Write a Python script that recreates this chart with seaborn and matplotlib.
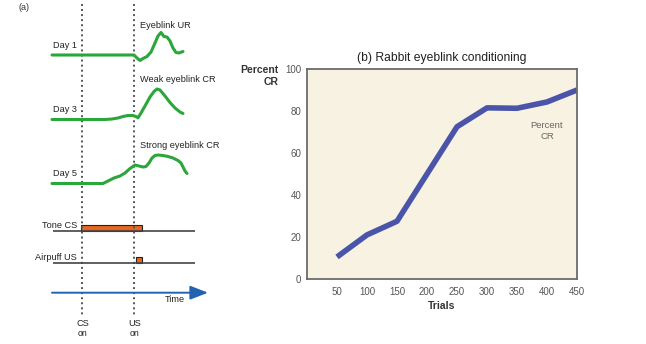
import matplotlib
matplotlib.use("Agg")
import matplotlib.pyplot as plt
import seaborn as sns
import numpy as np

# ---------------- data ----------------
# Panel (b): percent CR over trials
trials = [50, 100, 150, 250, 300, 350, 400, 450]
percent_cr = [10.5, 21, 27.5, 72.5, 81.5, 81.3, 84.3, 90]
x_ticks = [50, 100, 150, 200, 250, 300, 350, 400, 450]
y_ticks = [0, 20, 40, 60, 80, 100]

# Panel (a): schematic eyelid traces (panel units)
day1_t = [52, 134, 137, 140, 143, 147, 151, 155, 158, 161, 164, 167, 170, 173, 176, 179, 183]
day1_r = [55, 55, 58, 60.5, 58.5, 56.5, 52, 43, 36, 32.5, 36.5, 37, 41, 48, 52.5, 53, 51.5]
day3_t = [52, 105, 112, 118, 123, 128, 133, 136, 138, 141, 145, 150, 154, 157, 160, 165, 170, 175, 180, 183]
day3_r = [119.5, 119.5, 119, 118, 116.5, 115.5, 115.5, 116.5, 117.8, 113, 106, 97, 91.5, 89, 90, 96, 102.5, 108, 112, 113.5]
day5_t = [52, 103, 108, 114, 120, 125, 130, 135, 139, 143, 146, 149, 152, 155, 158, 163, 168, 173, 178, 181, 183, 185, 187]
day5_r = [183.5, 183.5, 181, 178, 176, 173, 168.5, 165, 166, 167, 166.5, 163, 158, 155.5, 155, 155.5, 156.5, 158, 160.5, 163, 167, 171, 173.5]
day_labels = ["Day 1", "Day 3", "Day 5"]
response_labels = ["Eyeblink UR", "Weak eyeblink CR", "Strong eyeblink CR"]

# stimulus timing (panel units)
cs_on, us_on, stim_off = 81, 135.5, 142.3
trace_start, trace_end = 52.7, 195

GREEN = "#2aa63a"
ORANGE = "#e8661e"
BLUE = "#2262b3"
LINE_B = "#4a54a8"
CREAM = "#f7f2e2"
GRAY = "#555555"

sns.set_theme(style="white")
plt.rcParams["font.family"] = ["Liberation Sans", "DejaVu Sans"]

W, H = 646, 344
fig = plt.figure(figsize=(W / 100, H / 100), dpi=100)
fig.patch.set_facecolor("white")

# ---------- panel (a) in pixel-like coordinates ----------
ax0 = fig.add_axes([0, 0, 1, 1])
ax0.set_xlim(0, W)
ax0.set_ylim(H, 0)
ax0.axis("off")

ax0.text(24, 7, "(a)", fontsize=6.5, color="#333333", ha="center", va="center")

# dotted onset lines
ax0.vlines([82, 134.3], 4, 315, colors="#555555", linestyles=(0, (1, 1.6)), lw=1.4)

for t, r in [(day1_t, day1_r), (day3_t, day3_r), (day5_t, day5_r)]:
    sns.lineplot(x=t, y=r, sort=False, ax=ax0, color=GREEN, lw=2.2,
                 estimator=None)
for line in ax0.get_lines():
    line.set_solid_joinstyle("round")
    line.set_solid_capstyle("round")

TXT = dict(fontsize=6.6, color="#222222")
for lab, y in zip(day_labels, [45, 110, 174]):
    ax0.text(53, y, lab, ha="left", va="center", **TXT)
for lab, y in zip(response_labels, [25, 80, 145]):
    ax0.text(140, y, lab, ha="left", va="center", **TXT)

# stimulus traces
ax0.hlines([231, 263.3], trace_start, trace_end, colors="#444444", lw=1.2)
ax0.bar([cs_on], [6.3], width=[stim_off - cs_on], bottom=[224.7], align="edge",
        color=ORANGE, edgecolor="#222222", linewidth=0.8)
ax0.bar([us_on], [6.8], width=[stim_off - us_on], bottom=[256.5], align="edge",
        color=ORANGE, edgecolor="#222222", linewidth=0.8)
ax0.text(77, 225, "Tone CS", ha="right", va="center", **TXT)
ax0.text(77, 257, "Airpuff US", ha="right", va="center", **TXT)

# time arrow
ax0.annotate("", xy=(208, 292.7), xytext=(52, 292.7),
             arrowprops=dict(arrowstyle="-|>,head_length=0.9,head_width=0.35",
                             color=BLUE, lw=1.4, shrinkA=0, shrinkB=0))
ax0.text(175, 299, "Time", ha="center", va="center", **TXT)
ax0.text(83, 323, "CS", ha="center", va="center", **TXT)
ax0.text(83, 333, "on", fontsize=6.3, color="#222222", ha="center", va="center")
ax0.text(135, 323, "US", ha="center", va="center", **TXT)
ax0.text(135, 333, "on", fontsize=6.3, color="#222222", ha="center", va="center")

# ---------- panel (b) ----------
left, right, top, bottom = 307, 577, 69, 279
ax1 = fig.add_axes([left / W, 1 - bottom / H, (right - left) / W, (bottom - top) / H])
ax1.set_facecolor(CREAM)
sns.lineplot(x=trials, y=percent_cr, ax=ax1, color=LINE_B, lw=4.0,
             estimator=None, sort=False)
ax1.get_lines()[0].set_solid_capstyle("butt")
ax1.set_xlim(0, 450)
ax1.set_ylim(0, 100)
ax1.set_xticks(x_ticks)
ax1.set_yticks(y_ticks)
ax1.tick_params(axis="both", length=0, labelsize=7, labelcolor=GRAY)
ax1.tick_params(axis="x", pad=5.5)
ax1.tick_params(axis="y", pad=4)
for s in ax1.spines.values():
    s.set_color("#6b6b6b")
    s.set_linewidth(1.3)
ax1.grid(False)

ax1.set_title("(b) Rabbit eyeblink conditioning", fontsize=8.7, color="#222222", pad=5.5)
ax1.set_xlabel("Trials", fontsize=7.5, fontweight="bold", color="#333333", labelpad=3)
ax1.set_ylabel("Percent\nCR", fontsize=7.5, fontweight="bold", color="#333333",
               rotation=0, ha="right", va="center", multialignment="right")
ax1.yaxis.set_label_coords(-0.104, 0.967)
ax1.text(0.889, 0.705, "Percent\nCR", transform=ax1.transAxes, fontsize=6.8,
         color="#666666", ha="center", va="center", multialignment="center")

fig.savefig("out.png", dpi=100, facecolor="white")
